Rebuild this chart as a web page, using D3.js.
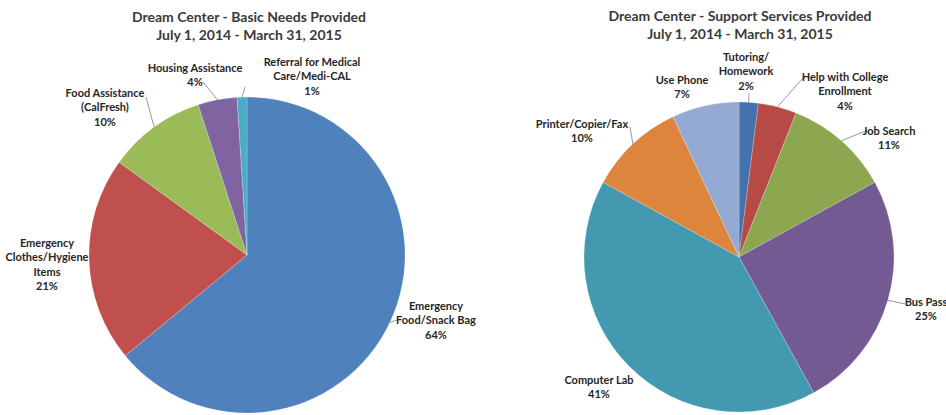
<!DOCTYPE html>
<html>
<head>
<meta charset="utf-8">
<script src="https://cdn.jsdelivr.net/npm/d3@7"></script>
<style>
  html, body { margin: 0; padding: 0; background: #fff; }
  svg { display: block; }
  text { font-family: Lato, "Open Sans", sans-serif; font-weight: bold; }
</style>
</head>
<body>
<svg id="chart" width="946" height="415"></svg>
<script>
// Basic needs: share of services (percent), clockwise from 12 o'clock
const basicCategories = [
  "Emergency\nFood/Snack Bag",
  "Emergency\nClothes/Hygiene\nItems",
  "Food Assistance\n(CalFresh)",
  "Housing Assistance",
  "Referral for Medical\nCare/Medi-CAL"
];
const basicValues = [64, 21, 10, 4, 1];
const basicColors = ["#4F81BD", "#C0504D", "#9BBB59", "#8064A2", "#4BACC6"];
const basicTitle = ["Dream Center - Basic Needs Provided", "July 1, 2014 - March 31, 2015"];

// Support services: share of services (percent), clockwise from 12 o'clock
const supportCategories = [
  "Tutoring/\nHomework",
  "Help with College\nEnrollment",
  "Job Search",
  "Bus Pass",
  "Computer Lab",
  "Printer/Copier/Fax",
  "Use Phone"
];
const supportValues = [2, 4, 11, 25, 41, 10, 7];
const supportColors = ["#4473AC", "#B84A46", "#8CA74F", "#735A93", "#4299B0", "#DD853D", "#94AAD2"];
const supportTitle = ["Dream Center - Support Services Provided", "July 1, 2014 - March 31, 2015"];

const svg = d3.select("#chart");

// Layout: pie centre/radius, label anchors and leader-line ends (relative to pie centre)
const basicLayout = {
  cx: 247, cy: 255, r: 158, titleX: 249, titleY: 17,
  labels: [[189, 51], [-200, -12], [-142, -162], [-52, -187], [65, -193]],
  leaders: [[[150, 65]], null, [[-101, -158]], [[-44, -173]], [[-2, -168]]]
};
const supportLayout = {
  cx: 739, cy: 257, r: 155, titleX: 740, titleY: 16,
  labels: [[7, -200], [106, -180], [150, -126], [187, 45], [-140, 123], [-157, -133], [-57, -177]],
  leaders: [[[10, -164]], [[63, -178], [66, -179]], [[124, -125], [130, -126]], [[166, 47]], null, [[-109, -130]], null]
};

const lineH = 14.5;

function drawPie(categories, values, colors, title, L) {
  // title
  const t = svg.append("text")
    .attr("x", L.titleX).attr("y", L.titleY)
    .attr("text-anchor", "middle")
    .attr("fill", "#3a3a3a")
    .style("font-size", "14px");
  title.forEach((s, i) => {
    t.append("tspan").attr("x", L.titleX).attr("dy", i === 0 ? "0.35em" : 18).text(s);
  });

  const g = svg.append("g").attr("transform", `translate(${L.cx},${L.cy})`);
  const arcs = d3.pie().sort(null).value(d => d)(values);
  const arc = d3.arc().innerRadius(0).outerRadius(L.r);
  const edge = d3.arc().innerRadius(L.r).outerRadius(L.r);

  g.selectAll("path.slice")
    .data(arcs)
    .join("path")
    .attr("class", "slice")
    .attr("d", arc)
    .attr("fill", (d, i) => colors[i])
    .attr("stroke", "rgba(255,255,255,0.35)")
    .attr("stroke-width", 0.6);

  // leader lines from slice edge (mid-angle) to the label
  arcs.forEach((d, i) => {
    const pts = L.leaders[i];
    if (!pts) return;
    g.append("polyline")
      .attr("points", [edge.centroid(d), ...pts].map(p => p.join(",")).join(" "))
      .attr("fill", "none")
      .attr("stroke", "#8c8c8c")
      .attr("stroke-width", 0.9);
  });

  // data labels: category lines followed by percent
  arcs.forEach((d, i) => {
    const [lx, ly] = L.labels[i];
    const lines = categories[i].split("\n").concat([d.data + "%"]);
    const txt = g.append("text")
      .attr("x", lx).attr("y", ly)
      .attr("text-anchor", "middle")
      .attr("fill", "#262626")
      .style("font-size", "11px");
    lines.forEach((s, j) => {
      txt.append("tspan").attr("x", lx).attr("dy", j === 0 ? "0.35em" : lineH).text(s);
    });
  });
}

drawPie(basicCategories, basicValues, basicColors, basicTitle, basicLayout);
drawPie(supportCategories, supportValues, supportColors, supportTitle, supportLayout);
</script>
</body>
</html>
